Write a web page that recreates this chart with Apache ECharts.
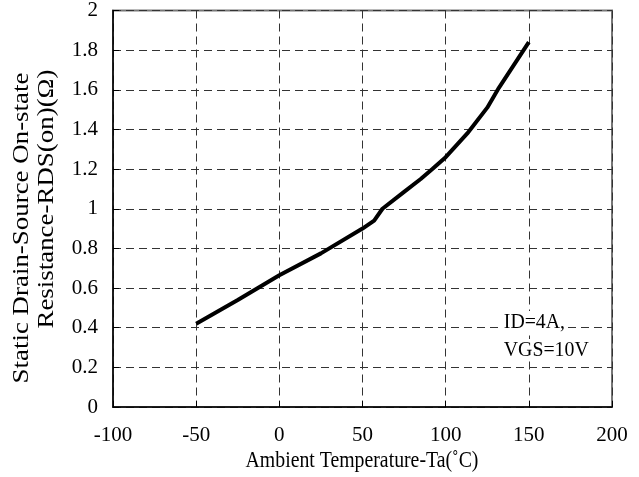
<!DOCTYPE html>
<html><head><meta charset="utf-8">
<script src="https://cdn.jsdelivr.net/npm/echarts@6/dist/echarts.min.js"></script>
<style>html,body{margin:0;padding:0;background:#fff}#c{width:639px;height:477px}</style>
</head><body><div id="c"></div>
<script>
const temps = [-50, -25, 0, 25, 50, 57, 62, 75, 85, 92, 100, 113, 125, 132, 150];
const rdsOn = [0.42, 0.54, 0.665, 0.775, 0.9, 0.94, 1.0, 1.085, 1.15, 1.2, 1.26, 1.38, 1.51, 1.61, 1.84];
const xTicks = [-100, -50, 0, 50, 100, 150, 200];
const yTicks = [0, 0.2, 0.4, 0.6, 0.8, 1, 1.2, 1.4, 1.6, 1.8, 2];
const xName = 'Ambient Temperature-Ta(\u02DAC)';
const yName = ['Static Drain-Source On-state', 'Resistance-RDS(on)(\u03A9)'];
const annot = ['ID=4A,', 'VGS=10V'];
const FONT = 'Liberation Serif';
const chart = echarts.init(document.getElementById('c'), null, {renderer: 'canvas'});
const dashed = {show: true, lineStyle: {color: '#333', type: [8, 5], width: 1}};
const txt = (s, size) => ({text: s, fontFamily: FONT, fontSize: size, fill: '#000'});
chart.setOption({
  animation: false,
  backgroundColor: '#fff',
  grid: {left: 113, right: 27, top: 8, bottom: 70, show: true, borderColor: '#777', borderWidth: 2},
  xAxis: {
    type: 'value', min: -100, max: 200, interval: 50,
    axisLine: {show: true, onZero: false, lineStyle: {color: '#000', width: 1.5}},
    axisTick: {show: true, inside: true, length: 6, lineStyle: {color: '#000'}},
    axisLabel: {color: '#000', fontFamily: FONT, fontSize: 21, margin: 18,
      formatter: v => String(xTicks.find(t => t === v) ?? v)},
    splitLine: dashed
  },
  yAxis: {
    type: 'value', min: 0, max: 2, interval: 0.2,
    axisLine: {show: true, onZero: false, lineStyle: {color: '#000', width: 1.5}},
    axisTick: {show: true, inside: true, length: 6, lineStyle: {color: '#000'}},
    axisLabel: {color: '#000', fontFamily: FONT, fontSize: 21, margin: 15,
      formatter: v => String(yTicks.find(t => Math.abs(t - v) < 1e-9) ?? v)},
    splitLine: dashed
  },
  series: [{
    type: 'line', data: temps.map((t, i) => [t, rdsOn[i]]),
    showSymbol: false, smooth: false,
    lineStyle: {color: '#000', width: 4}
  }],
  graphic: [
    {type: 'text', x: 362, y: 461, scaleX: 0.86,
      style: Object.assign(txt(xName, 23), {align: 'center', verticalAlign: 'middle'})},
    {type: 'text', x: 22, y: 228, rotation: Math.PI / 2, scaleX: 1.17,
      style: Object.assign(txt(yName[0], 23), {align: 'center', verticalAlign: 'middle'})},
    {type: 'text', x: 47, y: 199, rotation: Math.PI / 2, scaleX: 1.17,
      style: Object.assign(txt(yName[1], 23), {align: 'center', verticalAlign: 'middle'})},
    {type: 'text', x: 502, y: 322, scaleX: 0.9, z: 10,
      style: Object.assign(txt(annot[0], 22), {align: 'left', verticalAlign: 'middle', backgroundColor: '#fff', padding: [0, 2]})},
    {type: 'text', x: 502, y: 350, scaleX: 0.9, z: 10,
      style: Object.assign(txt(annot[1], 22), {align: 'left', verticalAlign: 'middle', backgroundColor: '#fff', padding: [0, 2]})}
  ]
});
</script></body></html>
